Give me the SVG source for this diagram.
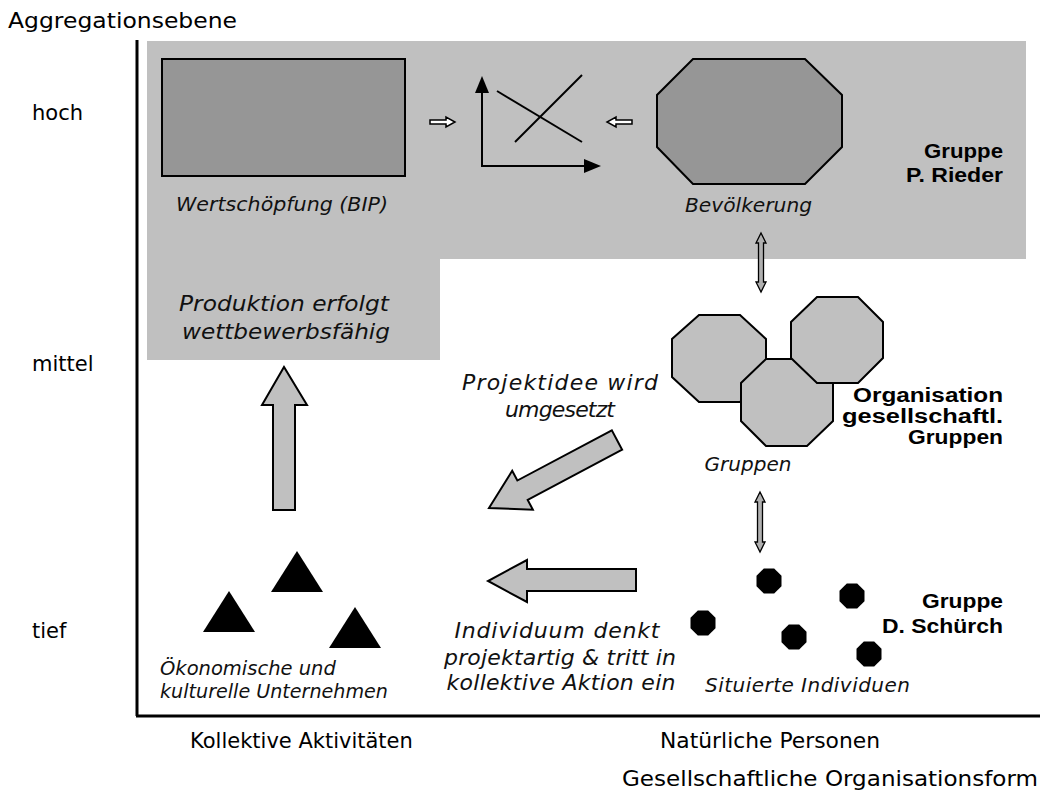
<svg xmlns="http://www.w3.org/2000/svg" xmlns:xlink="http://www.w3.org/1999/xlink" width="1045" height="794" viewBox="0 0 1045 794">
<style>
.ax{font-family:"DejaVu Sans",Verdana,sans-serif;font-size:21px;fill:#000}
.it{font-family:"DejaVu Sans",Verdana,sans-serif;font-style:italic;font-size:20px;fill:#111}
.bd{font-family:"Liberation Sans",Arial,sans-serif;font-weight:bold;font-size:20px;fill:#000;text-anchor:end}
.mid{text-anchor:middle}
.dark{fill:#969696;stroke:#000;stroke-width:2}
.light{fill:#c0c0c0;stroke:#000;stroke-width:2;stroke-linejoin:miter}
.blk{fill:#c0c0c0;stroke:#000;stroke-width:2;stroke-linejoin:miter}
.hol{fill:#fff;stroke:#000;stroke-width:1.5}
.dbl{fill:#b0b0b0;stroke:#000;stroke-width:1.3}
.ln{stroke:#000;stroke-width:2;fill:none}
</style>
<defs>
<polygon id="dot" points="12.5,-5.2 5.2,-12.5 -5.2,-12.5 -12.5,-5.2 -12.5,5.2 -5.2,12.5 5.2,12.5 12.5,5.2" fill="#000"/>
<polygon id="tri" points="0,-41 26,0 -26,0" fill="#000"/>
</defs>

<!-- background region -->
<polygon id="region-rieder" points="147,41 1026,41 1026,259 440,259 440,360 147,360" fill="#c0c0c0"/>

<!-- axes -->
<g id="axes">
<line x1="137" y1="40" x2="137" y2="716" stroke="#000" stroke-width="3"/>
<line x1="136" y1="716" x2="1040" y2="716" stroke="#000" stroke-width="3"/>
<text class="ax" x="8" y="28" textLength="229" lengthAdjust="spacingAndGlyphs">Aggregationsebene</text>
<text class="ax" x="32" y="120">hoch</text>
<text class="ax" x="32" y="371">mittel</text>
<text class="ax" x="32" y="638">tief</text>
<text class="ax" x="190" y="748">Kollektive Aktivitäten</text>
<text class="ax" x="660" y="748" textLength="220" lengthAdjust="spacingAndGlyphs">Natürliche Personen</text>
<text class="ax" x="622" y="786" textLength="416" lengthAdjust="spacingAndGlyphs">Gesellschaftliche Organisationsform</text>
</g>

<g id="node-bip">
<rect class="dark" x="162" y="59" width="243" height="117"/>
<text class="it" x="176" y="211" textLength="212" lengthAdjust="spacingAndGlyphs">Wertschöpfung (BIP)</text>
</g>

<g id="node-chart">
<line class="ln" x1="482" y1="90" x2="482" y2="166"/>
<polygon points="482,76 475,93 489,93" fill="#000"/>
<line class="ln" x1="481" y1="166" x2="586" y2="166"/>
<polygon points="601,166 584,159 584,173" fill="#000"/>
<line class="ln" x1="497" y1="91" x2="582" y2="142"/>
<line class="ln" x1="515" y1="142" x2="582" y2="75"/>
</g>

<g id="node-bevoelkerung">
<polygon class="dark" points="693,59 805,59 842,95 842,147 805,184 693,184 657,147 657,95"/>
<text class="it" x="685" y="212" textLength="127" lengthAdjust="spacingAndGlyphs">Bevölkerung</text>
</g>

<g id="label-rieder">
<text class="bd" x="1003" y="158" textLength="79" lengthAdjust="spacingAndGlyphs">Gruppe</text>
<text class="bd" x="1003" y="182" textLength="97" lengthAdjust="spacingAndGlyphs">P. Rieder</text>
</g>

<g id="node-produktion">
<text class="it mid" x="284" y="311" style="font-size:21px" textLength="210" lengthAdjust="spacingAndGlyphs">Produktion erfolgt</text>
<text class="it mid" x="286" y="339" style="font-size:21px" textLength="208" lengthAdjust="spacingAndGlyphs">wettbewerbsfähig</text>
</g>

<g id="node-gruppen">
<polygon class="light" points="699,315 740,315 766,339 766,377 740,402 699,402 672,377 672,339"/>
<polygon class="light" points="766,359 807,359 833,383 833,421 807,446 766,446 741,421 741,383"/>
<polygon class="light" points="817,297 858,297 883,322 883,358 858,383 817,383 791,358 791,322"/>
<text class="it mid" x="748" y="471">Gruppen</text>
</g>

<g id="label-organisation">
<text class="bd" x="1003" y="402" textLength="150" lengthAdjust="spacingAndGlyphs">Organisation</text>
<text class="bd" x="1003" y="423" textLength="161" lengthAdjust="spacingAndGlyphs">gesellschaftl.</text>
<text class="bd" x="1003" y="444" textLength="95" lengthAdjust="spacingAndGlyphs">Gruppen</text>
</g>

<g id="node-unternehmen">
<use xlink:href="#tri" x="297" y="592"/>
<use xlink:href="#tri" x="229" y="632"/>
<use xlink:href="#tri" x="355" y="648"/>
<text class="it" x="160" y="675" style="font-size:19.5px">Ökonomische und</text>
<text class="it" x="160" y="698" style="font-size:19.5px" textLength="228" lengthAdjust="spacingAndGlyphs">kulturelle Unternehmen</text>
</g>

<g id="node-individuen">
<use xlink:href="#dot" x="769" y="581"/>
<use xlink:href="#dot" x="852" y="596"/>
<use xlink:href="#dot" x="703" y="623"/>
<use xlink:href="#dot" x="794" y="637"/>
<use xlink:href="#dot" x="869" y="654"/>
<text class="it" x="705" y="692" textLength="205" lengthAdjust="spacing">Situierte Individuen</text>
</g>

<g id="label-schuerch">
<text class="bd" x="1003" y="608" textLength="81" lengthAdjust="spacingAndGlyphs">Gruppe</text>
<text class="bd" x="1003" y="633" textLength="121" lengthAdjust="spacingAndGlyphs">D. Schürch</text>
</g>

<g id="label-projektidee">
<text class="it mid" x="560" y="390" style="font-size:22px" textLength="196" lengthAdjust="spacing">Projektidee wird</text>
<text class="it mid" x="560" y="417" style="font-size:22px" textLength="110" lengthAdjust="spacing">umgesetzt</text>
</g>

<g id="label-individuum">
<text class="it mid" x="557" y="638" style="font-size:22px" textLength="205" lengthAdjust="spacing">Individuum denkt</text>
<text class="it mid" x="560" y="665" style="font-size:22px" textLength="232" lengthAdjust="spacing">projektartig &amp; tritt in</text>
<text class="it mid" x="561" y="690" style="font-size:22px" textLength="229" lengthAdjust="spacing">kollektive Aktion ein</text>
</g>

<g id="connectors">
<path class="hol" d="M430,120 L446,120 L446,117 L455,122 L446,127 L446,124 L430,124 Z"/>
<path class="hol" d="M632,120 L616,120 L616,117 L607,122 L616,127 L616,124 L632,124 Z"/>
<path class="dbl" d="M761,233 L766,243 L763.5,243 L763.5,282 L766,282 L761,292 L756,282 L758.5,282 L758.5,243 L756,243 Z"/>
<path class="dbl" d="M760,492 L765,502 L762.5,502 L762.5,542 L765,542 L760,552 L755,542 L757.5,542 L757.5,502 L755,502 Z"/>
<path class="blk" d="M273,510 L273,405 L262,405 L284,367 L307,405 L295,405 L295,510 Z"/>
<path class="blk" d="M636,569 L527,569 L527,560 L488,581 L527,602 L527,591 L636,591 Z"/>
<path class="blk" transform="translate(617,440) rotate(152)" d="M0,-11 L107,-11 L107,-22 L145,0 L107,22 L107,11 L0,11 Z"/>
</g>
</svg>
